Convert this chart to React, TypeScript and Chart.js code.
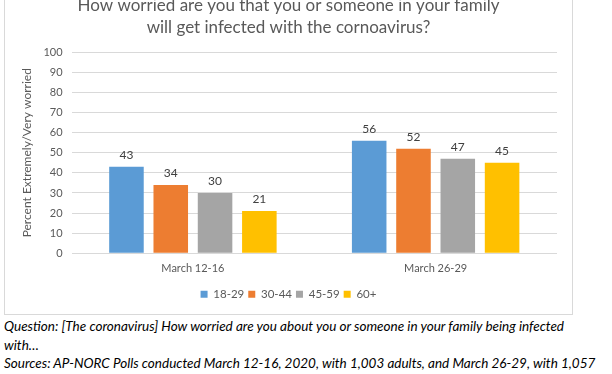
import React, { useEffect, useRef } from "react";
import { Chart, registerables } from "chart.js";

Chart.register(...registerables);

const categories = ["March 12-16", "March 26-29"];
const seriesNames = ["18-29", "30-44", "45-59", "60+"];
const values18to29 = [43, 56];
const values30to44 = [34, 52];
const values45to59 = [30, 47];
const values60plus = [21, 45];
const seriesColors = ["#5B9BD5", "#ED7D31", "#A5A5A5", "#FFC000"];
const titleLines = [
  "How worried are you that you or someone in your family",
  "will get infected with the cornoavirus?",
];
const yAxisTitle = "Percent Extremely/Very worried";
const yTickMin = 0;
const yTickMax = 100;
const yTickStep = 10;
const footerLines = [
  "Question: [The coronavirus] How worried are you about you or someone in your family being infected",
  "with…",
  "Sources: AP-NORC Polls conducted March 12-16, 2020, with 1,003 adults, and March 26-29, with 1,057",
];

const FONT = "Lato, 'Liberation Sans', sans-serif";

const valueLabelPlugin = {
  id: "valueLabels",
  afterDatasetsDraw(chart: any) {
    const ctx = chart.ctx;
    ctx.save();
    ctx.fillStyle = "#404040";
    ctx.font = `12px ${FONT}`;
    ctx.textAlign = "center";
    ctx.textBaseline = "middle";
    chart.data.datasets.forEach((ds: any, i: number) => {
      const meta = chart.getDatasetMeta(i);
      meta.data.forEach((el: any, j: number) => {
        ctx.fillText(String(ds.data[j]), el.x, el.y - 12);
      });
    });
    ctx.restore();
  },
};

export default function App() {
  const canvasRef = useRef<HTMLCanvasElement | null>(null);

  useEffect(() => {
    document.body.style.margin = "0";
    const canvas = canvasRef.current;
    if (!canvas) return;
    const seriesValues = [values18to29, values30to44, values45to59, values60plus];
    const chart = new Chart(canvas, {
      type: "bar",
      data: {
        labels: categories,
        datasets: seriesNames.map((name, i) => ({
          label: name,
          data: seriesValues[i],
          backgroundColor: seriesColors[i],
          borderWidth: 0,
          categoryPercentage: 0.73,
          barPercentage: 0.78,
        })),
      },
      options: {
        responsive: false,
        animation: false,
        devicePixelRatio: 1,
        layout: { padding: { left: 15, right: 15, top: 0, bottom: 3 } },
        plugins: {
          title: {
            display: true,
            text: titleLines,
            color: "#595959",
            font: { family: FONT, size: 17, weight: "normal", lineHeight: 1.3 },
            padding: { top: 8, bottom: 14 },
          },
          legend: {
            display: true,
            position: "bottom",
            labels: {
              boxWidth: 7,
              boxHeight: 7,
              color: "#595959",
              font: { family: FONT, size: 11.5 },
              padding: 4,
            },
          },
          tooltip: { enabled: false },
        },
        scales: {
          x: {
            grid: { display: false, drawTicks: false },
            border: { display: false },
            ticks: {
              color: "#595959",
              font: { family: FONT, size: 11 },
              padding: 9,
            },
          },
          y: {
            min: yTickMin,
            max: yTickMax,
            ticks: {
              stepSize: yTickStep,
              color: "#595959",
              font: { family: FONT, size: 11 },
              padding: 9,
            },
            grid: { color: "#D9D9D9", drawTicks: false },
            border: { display: false },
            title: {
              display: true,
              text: yAxisTitle,
              color: "#595959",
              font: { family: FONT, size: 12 },
              padding: { top: 0, bottom: 0 },
            },
          },
        },
      },
      plugins: [valueLabelPlugin],
    });
    return () => chart.destroy();
  }, []);

  return (
    <div
      style={{
        position: "relative",
        width: 612,
        height: 374,
        overflow: "hidden",
        background: "#fff",
      }}
    >
      <div
        style={{
          position: "absolute",
          left: 4,
          top: -20,
          width: 567,
          height: 333,
          border: "1px solid #D9D9D9",
        }}
      />
      <canvas
        ref={canvasRef}
        width={567}
        height={327}
        style={{ position: "absolute", left: 5, top: -14, width: 567, height: 327 }}
      />
      <div
        style={{
          position: "absolute",
          left: 4,
          top: 317,
          fontFamily: FONT,
          fontStyle: "italic",
          fontSize: 13.5,
          lineHeight: "18.5px",
          color: "#000",
          whiteSpace: "nowrap",
        }}
      >
        {footerLines.map((line, i) => (
          <div key={i}>{line}</div>
        ))}
      </div>
    </div>
  );
}
